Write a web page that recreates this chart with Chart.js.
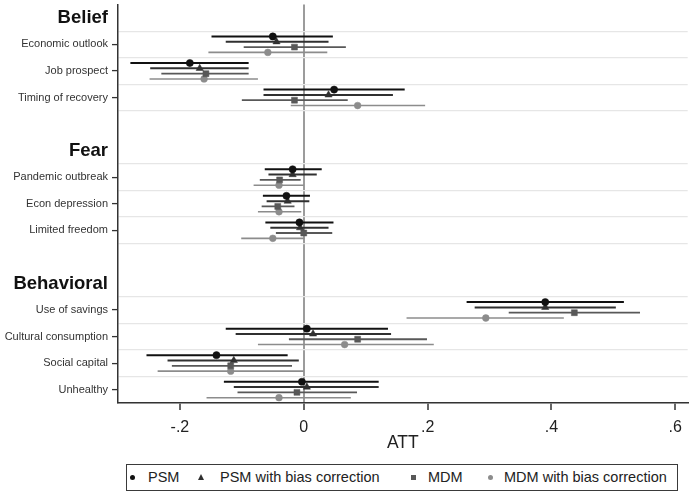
<!DOCTYPE html>
<html>
<head>
<meta charset="utf-8">
<script src="https://cdn.jsdelivr.net/npm/chart.js@4.4.1/dist/chart.umd.min.js"></script>
<style>
  html, body { margin: 0; padding: 0; background: #fff; }
  #wrap { position: relative; width: 690px; height: 495px; }
  #chart { position: absolute; left: 0; top: 0; }
  #legend {
    position: absolute; left: 126px; top: 464px; width: 550px; height: 25px;
    border: 1.5px solid #3a3a3a;
    font-family: 'Liberation Sans', Arial, Helvetica, sans-serif; font-size: 14.5px; color: #222;
  }
  .item { position: absolute; top: 0; height: 25px; line-height: 25px; white-space: nowrap; }
  .mk { position: absolute; top: 10px; }
  .mk.circle { width: 5px; height: 5px; border-radius: 50%; }
  .mk.rect { width: 5px; height: 5px; }
  .mk.triangle { width: 0; height: 0; top: 9px; background: none !important;
    border-left: 3px solid transparent; border-right: 3px solid transparent; border-bottom: 6px solid; }
</style>
</head>
<body>
<div id="wrap">
  <canvas id="chart" width="690" height="455"></canvas>
  <div id="legend"></div>
</div>
<script>
const groups = ['Belief', 'Fear', 'Behavioral'];
const categories = ['Economic outlook', 'Job prospect', 'Timing of recovery',
  'Pandemic outbreak', 'Econ depression', 'Limited freedom',
  'Use of savings', 'Cultural consumption', 'Social capital', 'Unhealthy'];
const categoryGroup = [0, 0, 0, 1, 1, 1, 2, 2, 2, 2];

const seriesNames = ['PSM', 'PSM with bias correction', 'MDM', 'MDM with bias correction'];

// point estimates and 95% CI bounds
const psmEst = [-0.050, -0.184, 0.049, -0.018, -0.028, -0.007, 0.390, 0.005, -0.141, -0.003];
const psmLo  = [-0.149, -0.280, -0.065, -0.063, -0.066, -0.062, 0.263, -0.126, -0.254, -0.129];
const psmHi  = [0.047, -0.089, 0.163, 0.029, 0.010, 0.048, 0.517, 0.136, -0.026, 0.121];

const psmbcEst = [-0.044, -0.168, 0.040, -0.018, -0.026, -0.006, 0.390, 0.015, -0.113, 0.005];
const psmbcLo  = [-0.126, -0.248, -0.065, -0.057, -0.060, -0.054, 0.276, -0.110, -0.220, -0.113];
const psmbcHi  = [0.040, -0.089, 0.144, 0.021, 0.009, 0.040, 0.504, 0.141, -0.008, 0.121];

const mdmEst = [-0.015, -0.158, -0.015, -0.039, -0.042, 0.000, 0.437, 0.087, -0.118, -0.011];
const mdmLo  = [-0.097, -0.230, -0.100, -0.071, -0.068, -0.045, 0.331, -0.024, -0.213, -0.107];
const mdmHi  = [0.068, -0.089, 0.071, -0.005, -0.015, 0.046, 0.543, 0.199, -0.019, 0.086];

const mdmbcEst = [-0.058, -0.161, 0.087, -0.040, -0.040, -0.050, 0.294, 0.066, -0.118, -0.040];
const mdmbcLo  = [-0.154, -0.249, -0.021, -0.081, -0.074, -0.101, 0.166, -0.074, -0.236, -0.157];
const mdmbcHi  = [0.038, -0.074, 0.196, 0.000, -0.004, 0.001, 0.420, 0.210, 0.000, 0.076];

const xTicks = [-0.2, 0, 0.2, 0.4, 0.6];

const FONT = "'Liberation Sans', Arial, Helvetica, sans-serif";
const colors = ['#111111', '#303030', '#585858', '#8c8c8c'];
const shapes = ['circle', 'triangle', 'rect', 'circle'];
const radii = [3.6, 4.2, 4.2, 3.4];
const lineW = [2, 2, 1.8, 1.6];
const offsets = [-0.3, -0.1, 0.1, 0.3];

// row layout: header row, items, blank row between groups
const rowLabels = {};
const headerRows = [];
const itemRows = [];
let r = 0;
groups.forEach((g, gi) => {
  if (gi > 0) r++;
  headerRows.push(r);
  rowLabels[r] = g;
  r++;
  categories.forEach((c, ci) => {
    if (categoryGroup[ci] === gi) {
      itemRows[ci] = r;
      rowLabels[r] = c;
      r++;
    }
  });
});
const lastRow = r - 1;

const gridRows = new Set();
itemRows.forEach(v => { gridRows.add(v - 0.5); gridRows.add(v + 0.5); });

const allSeries = [
  [psmEst, psmLo, psmHi],
  [psmbcEst, psmbcLo, psmbcHi],
  [mdmEst, mdmLo, mdmHi],
  [mdmbcEst, mdmbcLo, mdmbcHi]
];

const datasets = allSeries.map(([est, lo, hi], s) => ({
  label: seriesNames[s],
  data: est.map((v, i) => ({ x: v, y: itemRows[i] + offsets[s], lo: lo[i], hi: hi[i] })),
  pointStyle: shapes[s],
  pointRadius: radii[s],
  pointBackgroundColor: colors[s],
  pointBorderColor: colors[s],
  pointBorderWidth: 0.5,
  ciColor: colors[s],
  ciWidth: lineW[s],
  showLine: false
}));

const errorBars = {
  id: 'errorBars',
  beforeDatasetsDraw(chart) {
    const { ctx, scales: { x, y } } = chart;
    ctx.save();
    chart.data.datasets.forEach(ds => {
      ctx.strokeStyle = ds.ciColor;
      ctx.lineWidth = ds.ciWidth;
      ds.data.forEach(d => {
        const py = y.getPixelForValue(d.y);
        ctx.beginPath();
        ctx.moveTo(x.getPixelForValue(d.lo), py);
        ctx.lineTo(x.getPixelForValue(d.hi), py);
        ctx.stroke();
      });
    });
    ctx.restore();
  }
};

function yFont(ctx) {
  const v = ctx.tick ? ctx.tick.value : null;
  if (headerRows.includes(v)) return { family: FONT, size: 18.5, weight: 'bold' };
  if (rowLabels[v]) return { family: FONT, size: 11 };
  return { family: FONT, size: 1 };
}

new Chart(document.getElementById('chart'), {
  type: 'scatter',
  data: { datasets },
  plugins: [errorBars],
  options: {
    responsive: false,
    animation: false,
    events: [],
    layout: { autoPadding: false, padding: { top: -0.5, right: 2, left: 0, bottom: 0 } },
    plugins: { legend: { display: false }, tooltip: { enabled: false } },
    scales: {
      x: {
        type: 'linear',
        min: -0.3,
        max: 0.62,
        afterBuildTicks: axis => { axis.ticks = xTicks.map(v => ({ value: v })); },
        afterFit: scale => { scale.height = 52; },
        border: { color: '#333', width: 1.5 },
        grid: {
          color: ctx => (ctx.tick && ctx.tick.value === 0) ? '#9c9c9c' : 'rgba(0,0,0,0)',
          lineWidth: 2,
          tickColor: '#333',
          tickLength: 7,
          tickWidth: 1.5
        },
        ticks: {
          font: { family: FONT, size: 16 },
          color: '#222',
          padding: 8,
          callback: v => v === 0 ? '0' : (v < 0 ? '-' : '') + String(Math.abs(v)).replace(/^0/, '')
        },
        title: {
          display: true,
          text: 'ATT',
          font: { family: FONT, size: 17.5 },
          color: '#222',
          padding: { top: 0, bottom: 1 }
        }
      },
      y: {
        type: 'linear',
        reverse: true,
        min: -0.5,
        max: lastRow + 0.5,
        afterBuildTicks: axis => {
          const t = [];
          for (let v = -0.5; v <= lastRow + 0.5; v += 0.5) t.push({ value: v });
          axis.ticks = t;
        },
        afterFit: scale => { scale.width = 118; },
        border: { color: '#333', width: 1.5 },
        grid: {
          color: ctx => (ctx.tick && gridRows.has(ctx.tick.value)) ? '#e6e6e6' : 'rgba(0,0,0,0)',
          lineWidth: 1.2,
          tickColor: ctx => (ctx.tick && itemRows.includes(ctx.tick.value)) ? '#333' : 'rgba(0,0,0,0)',
          tickLength: 6,
          tickWidth: 1.3
        },
        ticks: {
          autoSkip: false,
          padding: 4,
          font: yFont,
          color: ctx => (ctx.tick && headerRows.includes(ctx.tick.value)) ? '#111' : '#333',
          callback: v => rowLabels[v] || ''
        }
      }
    }
  }
});

// legend box under the plot
const legendMarkX = [6, 74, 287, 364];
const legendTextX = [21, 93, 301, 377];
const legend = document.getElementById('legend');
seriesNames.forEach((name, s) => {
  const mk = document.createElement('span');
  mk.className = 'mk ' + shapes[s];
  mk.style.left = (legendMarkX[s] - 3) + 'px';
  if (shapes[s] === 'triangle') mk.style.borderBottomColor = colors[s];
  else mk.style.background = colors[s];
  legend.appendChild(mk);
  const t = document.createElement('span');
  t.className = 'item';
  t.style.left = legendTextX[s] + 'px';
  t.textContent = name;
  legend.appendChild(t);
});
</script>
</body>
</html>
